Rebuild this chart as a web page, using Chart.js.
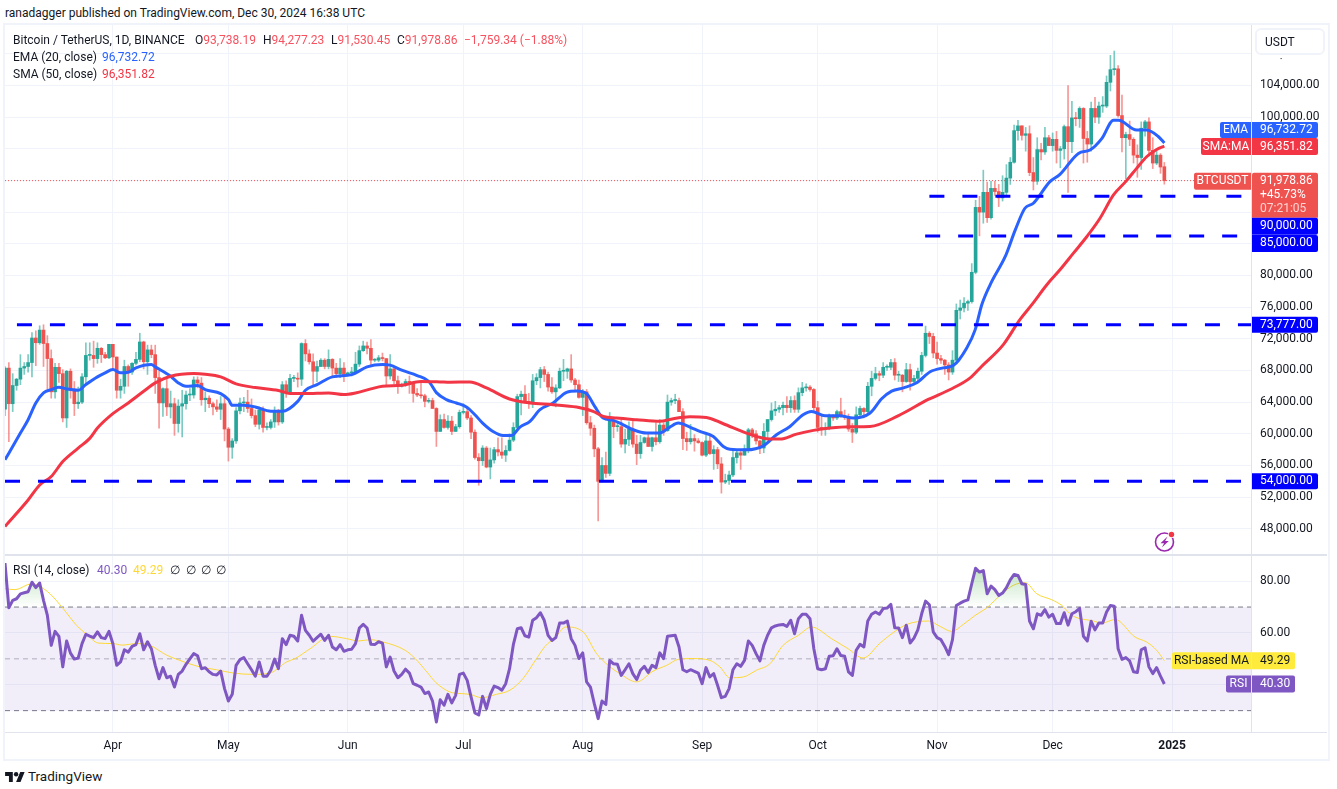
<!DOCTYPE html>
<html><head><meta charset="utf-8">
<script src="https://cdn.jsdelivr.net/npm/chart.js@4"></script>
<style>
html,body{margin:0;padding:0;background:#fff;width:1337px;height:789px;overflow:hidden}
body{font-family:Roboto,sans-serif;font-size:12px;color:#131722;position:relative}
canvas{position:absolute;left:5px;display:block}
#frame{position:absolute;left:3px;top:23px;width:1323px;height:734px;border:2px solid #f0f3fa}
.t{position:absolute;white-space:pre;line-height:16px;z-index:3}
#usdt{position:absolute;left:1255px;top:28px;height:23px;border:2px solid #f0f3fa;border-radius:6px;background:#fff;z-index:3;line-height:25px;padding-left:8px;box-sizing:content-box;width:58px;box-shadow:0 3px 0 #fff}
.u{color:#f7525f}
</style></head><body>
<div id="frame"></div>
<div class="t" style="left:5px;top:5px">ranadagger published on TradingView.com, Dec 30, 2024 16:38 UTC</div>
<div class="t" style="left:13px;top:32px">Bitcoin / TetherUS, 1D, BINANCE</div>
<div class="t" style="left:195px;top:32px">O<span class="u">93,738.19</span></div>
<div class="t" style="left:263px;top:32px">H<span class="u">94,277.23</span></div>
<div class="t" style="left:331px;top:32px">L<span class="u">91,530.45</span></div>
<div class="t" style="left:397px;top:32px">C<span class="u">91,978.86</span></div>
<div class="t u" style="left:464px;top:32px">−1,759.34 (−1.88%)</div>
<div class="t" style="left:13px;top:49px">EMA (20, close)</div>
<div class="t" style="left:102px;top:49px;color:#2962ff">96,732.72</div>
<div class="t" style="left:13px;top:66px">SMA (50, close)</div>
<div class="t" style="left:102px;top:66px;color:#f23645">96,351.82</div>
<div class="t" style="left:13px;top:562px">RSI (14, close)</div>
<div class="t" style="left:97px;top:562px;color:#7e57c2">40.30</div>
<div class="t" style="left:133px;top:562px;color:#fdd835">49.29</div>
<div class="t" style="left:170px;top:562px">∅</div>
<div class="t" style="left:186px;top:562px">∅</div>
<div class="t" style="left:201px;top:562px">∅</div>
<div class="t" style="left:216px;top:562px">∅</div>
<div id="usdt">USDT</div>
<svg style="position:absolute;left:5px;top:771px" width="20" height="11" viewBox="0 0 36 20"><path fill="#131722" d="M14 20H7V9H0V2h14v18zM28 20h-8l7.5-18h8L28 20z"/><circle fill="#131722" cx="20" cy="6" r="4"/></svg>
<div class="t" style="left:28px;top:767px;font-size:13.5px;line-height:18px">TradingView</div>
<svg style="position:absolute;left:1153px;top:530px;z-index:3" width="24" height="24" viewBox="0 0 24 24"><circle cx="11.5" cy="12" r="9" fill="none" stroke="#9c27b0" stroke-width="1.6"/><path fill="#9c27b0" d="M14.5 6.5 7.5 13.2h3.6L8.8 17.6l7-6.6h-3.6z"/><circle cx="18.5" cy="4.5" r="3.4" fill="#fff"/><circle cx="18.5" cy="4.5" r="2.7" fill="#f23645"/></svg>
<canvas id="main" width="1323" height="530" style="top:25px"></canvas>
<canvas id="rsi" width="1323" height="203" style="top:555px"></canvas>
<script>
const opens=[
63100,68300,63800,66100,66900,68300,68500,69000,72100,71500,
73100,71400,69500,65300,68400,67600,62000,67900,65500,63800,
64000,67200,69900,69900,69500,70800,70000,69600,71300,69700,
65500,66000,68500,67800,68900,69400,71600,69100,70600,70000,
67100,63900,65700,63400,63800,61300,63500,63800,64900,64900,
66800,66400,64300,64500,63800,63400,63100,63800,60600,58300,
59100,62900,63900,64000,63200,62300,61200,63000,60800,60800,
61500,62900,61500,66200,65200,67000,67000,66900,71400,70100,
69100,67900,68500,69300,68500,69400,68300,67600,68300,67500,
67700,67700,68800,70500,71100,70800,69300,69300,69600,69500,
67300,68200,66700,66000,66200,66600,66500,65100,64900,64800,
64100,64200,63200,60300,61800,60800,61600,60300,60900,62700,
62800,62000,60200,57000,56600,58200,55800,56700,58000,57700,
57300,57900,59200,60800,64700,65000,64100,63900,66700,67100,
68100,67500,65900,65300,65800,67900,67900,68200,66800,66200,
64600,65300,61400,60700,58100,54000,56000,55000,61700,60900,
60900,58700,59300,60600,58700,57500,58900,59500,58400,59500,
59000,61100,60400,64000,64200,64200,62800,59400,59000,59400,
59100,58900,57300,59100,57500,58000,56200,53900,54100,54800,
57000,57600,57300,58100,60500,60000,59100,58200,60300,61800,
62900,63100,63300,63600,63300,64200,63100,65200,65800,65900,
65600,63300,60800,60600,60700,62100,62000,62800,62200,62100,
60600,60200,62400,63200,62800,66000,67000,67600,67400,68400,
68400,69000,67400,67400,66600,68100,66600,67000,67900,69900,
72700,72300,70200,69500,69300,68700,67800,69300,75600,75900,
76500,76700,80400,88600,88000,90500,87300,91000,90600,89800,
90500,92300,94300,98300,98900,97700,97900,93000,91900,95900,
95600,97400,96400,97200,95800,96000,98800,96900,99900,99800,
101100,97300,96600,101100,100000,101400,101400,104400,106000,106100,
100200,97400,97800,97200,95200,94900,98600,99400,95800,94200,
95200,93738.19];
const highs=[
68500,69000,67600,67000,70000,69000,70000,72800,73000,73650,
73777,72400,70600,68900,68900,68100,68000,68200,66600,65900,
67600,71500,71500,71700,71500,70900,70300,71300,71300,69700,
66900,69300,68700,69000,70300,72700,71700,71200,71200,71200,
67900,65800,66900,65400,64500,64300,65500,65400,65700,67200,
67200,67100,65300,64800,64000,64300,64700,64800,60800,59400,
63300,64500,64600,65500,64400,63000,63400,63400,61400,61800,
63400,63100,66600,66700,67500,67400,67700,71500,71900,70600,
70100,69200,69500,69500,70600,69500,68900,69500,69000,67800,
68400,70300,71100,71700,71600,71900,69500,69900,70200,69500,
70000,68400,67300,66400,66900,67300,66500,65700,66500,65000,
64500,64500,63300,62400,62500,62300,62200,61200,63000,63800,
63300,62300,60500,57500,58500,58400,58200,58300,59500,59500,
58500,60000,61400,65000,65400,66100,65100,67500,67600,68400,
68500,67800,67100,66200,68300,69400,68300,70000,67000,66800,
65600,65600,62200,61100,58300,57000,57700,62700,61800,61400,
61800,60600,61500,61800,59800,59800,59600,60200,59600,61400,
61800,61400,64900,64500,65000,64500,63200,60200,61200,59900,
59400,59000,59800,59800,58500,58300,57000,54900,55300,58100,
58000,57900,58600,60700,60700,60400,59200,61300,61800,63900,
64100,63600,64000,64700,64700,64800,65800,66500,66300,66100,
65700,64100,62400,61400,62500,62400,63000,64500,63000,62500,
61300,63400,63500,63300,66500,67900,68400,67900,69000,68700,
69400,69500,67900,67500,68900,68800,67400,68300,70300,73600,
72900,72700,71600,69900,69400,69000,70500,76400,76900,77200,
76900,81500,89500,90000,93300,91800,91900,91900,91500,92600,
94000,94900,99000,99600,98900,98700,98900,94900,97400,96700,
98700,97700,98000,98200,96300,99000,104000,102000,100600,101300,
101200,98200,101900,102500,101900,102600,105200,107800,108350,106500,
102800,98100,99500,97400,96500,99400,99600,99900,97400,95700,
95400,94277.23];
const lows=[
62300,59000,62800,65500,66200,67500,67800,67200,68600,71300,
68500,65600,64500,64500,66500,61500,60800,64500,62300,63200,
63800,66400,69300,68400,68900,69000,69500,69500,68100,64500,
64500,65100,66000,67500,68700,69100,68200,67500,69600,65100,
60700,62200,62300,62000,59800,60200,59600,63100,64200,64500,
65800,63600,62800,63300,62400,62800,61800,59100,56550,56900,
58800,62500,62800,62700,62000,60900,60600,60200,60500,60600,
60800,61100,61300,64600,65000,66600,65900,66100,69200,68800,
66000,66600,68500,68200,68200,67200,67100,67100,66600,67400,
67300,67600,68500,70400,70100,68500,69100,69100,69200,66100,
66900,66300,65100,65900,66000,65100,64000,64700,64500,63400,
63900,63200,58400,60300,60700,60600,59900,60300,60700,62500,
61800,59400,56800,53500,56000,55700,54300,56300,57200,56900,
56500,57800,59000,60600,62400,63900,63200,63300,66200,65800,
66600,65400,65100,63400,65700,66700,67000,66500,65300,64500,
62300,61200,59800,57100,49000,53900,54500,54700,59500,60300,
58300,57600,58500,58300,56100,56900,58800,58400,57800,58600,
58800,59800,60300,63600,63800,62800,58000,57900,58700,57800,
58800,57200,57100,57400,55500,55600,52500,53700,53600,54600,
56300,55500,57300,57600,59500,58700,57500,57600,59200,61600,
62300,62700,62400,62700,62700,62700,62700,64800,65400,65400,
62900,60200,59800,59800,60500,61700,61800,62100,61800,60300,
58900,60000,62300,62000,62400,64800,66800,66700,67100,68000,
68100,66800,66600,65300,66500,65500,66400,66700,67500,69700,
71400,69600,68800,68900,67500,66800,67500,69000,74500,75400,
75600,76500,80200,85000,86600,86700,87100,90100,88700,89400,
90000,91500,94200,97100,97100,95700,92600,90800,91500,94600,
95300,96500,95700,94200,93600,94700,90500,95500,98900,98700,
94200,94300,95700,99300,99200,100600,101200,103300,105300,100000,
95600,92200,96400,94200,92400,93400,97600,95200,93500,94000,
92900,91530.45];
const closes=[
68300,63800,66100,66900,68300,68500,69000,72100,71500,73100,
71400,69500,65300,68400,67600,62000,67900,65500,63800,64000,
67200,69900,69900,69500,70800,70000,69600,71300,69700,65500,
66000,68500,67800,68900,69400,71600,69100,70600,70000,67100,
63900,65700,63400,63800,61300,63500,63800,64900,64900,66800,
66400,64300,64500,63800,63400,63100,63800,60600,58300,59100,
62900,63900,64000,63200,62300,61200,63000,60800,60800,61500,
62900,61500,66200,65200,67000,67000,66900,71400,70100,69100,
67900,68500,69300,68500,69400,68300,67600,68300,67500,67700,
67700,68800,70500,71100,70800,69300,69300,69600,69500,67300,
68200,66700,66000,66200,66600,66500,65100,64900,64800,64100,
64200,63200,60300,61800,60800,61600,60300,60900,62700,62800,
62000,60200,57000,56600,58200,55800,56700,58000,57700,57300,
57900,59200,60800,64700,65000,64100,63900,66700,67100,68100,
67500,65900,65300,65800,67900,67900,68200,66800,66200,64600,
65300,61400,60700,58100,54000,56000,55000,61700,60900,60900,
58700,59300,60600,58700,57500,58900,59500,58400,59500,59000,
61100,60400,64000,64200,64200,62800,59400,59000,59400,59100,
58900,57300,59100,57500,58000,56200,53900,54100,54800,57000,
57600,57300,58100,60500,60000,59100,58200,60300,61800,62900,
63100,63300,63600,63300,64200,63100,65200,65800,65900,65600,
63300,60800,60600,60700,62100,62000,62800,62200,62100,60600,
60200,62400,63200,62800,66000,67000,67600,67400,68400,68400,
69000,67400,67400,66600,68100,66600,67000,67900,69900,72700,
72300,70200,69500,69300,68700,67800,69300,75600,75900,76500,
76700,80400,88600,88000,90500,87300,91000,90600,89800,90500,
92300,94300,98300,98900,97700,97900,93000,91900,95900,95600,
97400,96400,97200,95800,96000,98800,96900,99900,99800,101100,
97300,96600,101100,100000,101400,101400,104400,106000,106100,100200,
97400,97800,97200,95200,94900,98600,99400,95800,94200,95200,
93700,91978.86];

const emaDays=[0,2,4,6,8,10,12,14,16,19,21,24,26,28,30,32,34,38,39,43,45,47,50,52,56,58,59,62,65,69,72,76,78,81,85,90,94,98,100,103,107,110,112,114.6,117.2,119.8,122,124,126.7,129.3,131.5,133.7,136.3,138.9,142.3,145.8,148.4,151,153.1,155.3,157.9,160.5,163.1,166.6,170,172.6,174.8,177.8,180.4,183.9,186.5,188.2,192.5,196.9,200.3,203.8,207.2,209.4,212.9,216.8,220.2,224.6,227.6,230.2,233.3,236.7,240.2,243.6,246.2,249.7,251.9,253.6,256.2,259.7,262.3,264.8,267,271.3,273.9,278.7,281.7,284.8,287.8,289.1,293.8,296.4,299.5,301];
const emaValues=[56710,58400,60090,61780,63890,65160,65580,65880,65670,65500,66220,67190,67700,68120,67700,67780,68330,68750,68450,67270,66430,66000,66090,65580,65080,64320,63600,63600,63390,62840,62840,64100,65500,66220,67190,67480,68450,68750,68670,68030,67360,66640,65200,64310,63890,63380,62410,61350,60300,59790,59790,60850,61570,63050,63890,65240,65410,65070,63470,61990,61700,61140,60510,60090,60090,60850,61350,60850,60300,59660,58400,58060,57980,58480,59880,60930,62410,62830,62290,62290,61990,62620,64420,65390,65810,66440,67830,68330,68620,70850,73160,76310,79250,82400,85760,88490,89120,91850,92770,95420,95840,97310,99620,99620,98360,98360,97520,96732.72];
const smaDays=[0,6,9,12,15,19,22,24,28,32,36,39,43,49,52,56,60,65,71,74,78,84,88,91,95,98,103,108,113,115.5,120.7,125,131,136.3,142.3,148.4,152.7,155.3,158.8,164,170,173.5,177.8,182.1,186.5,192.5,196.9,201.2,205.5,209.9,214.2,219.4,224.6,232,239.7,245.4,250.6,253.6,259.2,263.5,266.6,270.5,273.9,277.4,280.9,284.3,287.8,291.2,293.8,296.4,299,301];
const smaValues=[48300,51640,53540,54600,56500,58190,59420,60720,62540,63890,65370,66430,67270,67610,67520,67190,66300,65840,65460,65080,65080,65160,64950,65160,65670,66000,66130,66600,66550,66510,66550,65790,64400,63890,63680,63380,62830,62200,61990,61780,61570,61910,62160,62070,61270,60090,59450,59330,59960,60430,60720,60890,60930,62300,64340,65600,67070,68540,71270,74420,76310,78830,80720,82820,84920,87230,90170,91980,93530,95000,95920,96351.82];

const rsiValues=[
87,69.7,72.6,73.2,75.1,75.5,75.9,79.6,77.5,79.3,
72.6,66.8,55.2,60.6,58.7,46.9,56.9,52.2,49.9,50.3,
55.9,59.5,58.8,58.2,60.4,58.2,57.8,60.6,55.9,47.5,
48.8,53.5,52.6,54.8,55.5,59.7,53.5,56.6,53.9,47.5,
42.3,46.6,42.7,43.3,39.1,44,45.3,47.9,50,52,
51.2,46.2,46.6,45,44,43.8,45.3,38.5,33.7,36.3,
47.5,49.7,50.5,48.1,45.8,43.3,48.8,43.3,43.3,45.6,
49.9,46.2,57.8,55.5,59.1,58.7,56.9,66.8,61,59.1,
56.8,58.2,59.5,57.1,59.1,54.6,53.5,55.5,52.9,53.5,
53.7,55.9,61.9,63.3,61.9,55.6,55.5,56.6,56.1,46.9,
50.7,45.3,42.7,44,46,44.5,40.4,39.8,39.1,36.6,
37.2,33.7,25.6,34.2,32.1,36.3,33,35.9,44,44.5,
41.7,35.3,29.1,28.3,35.5,30.8,36.3,39.5,38.9,37.9,
40.4,46.2,55.6,61.6,62,58.9,58.4,64.9,65.9,67.8,
64.9,59.1,57.1,58.2,63.8,63.8,64.6,57.8,55.2,50.1,
52.3,41.1,39.1,32.7,26.9,33.7,32.4,49.4,48.1,47.9,
43.6,45.8,48.1,44.3,42,45.6,47.1,44.7,47.5,46.6,
52.3,50.1,58.7,58.9,59.1,54.6,45.8,45,45.8,45.2,
44.5,40.4,46.6,43,44.3,39.8,35,35.5,38.5,45.8,
48.1,47.1,49.4,56.9,55.2,52,49.2,55.2,59.1,62,
62.7,63.1,63.3,62.5,64.9,59.7,65.5,67.2,67.2,65.5,
53.9,46.2,45.8,46.2,51,51.2,53.9,51.3,51,45,
43.6,53.3,55.6,54.6,64.6,67.2,68.1,67.2,69.4,69.6,
71,62,61.9,58.2,63,56.1,58,61.2,67.4,72.3,
70.9,60.4,58.2,57.4,54.8,51.6,57.4,70.6,71.5,72.3,
72.8,79,85,83.5,84.1,75.1,78.1,76.7,74.5,75.4,
77.5,80.5,82.6,82.2,79,78.7,64.6,61.6,67.4,66.8,
69,66.1,67.2,63.6,63.6,67.8,63,67.4,68.2,69.5,
58.7,56.9,64.5,61.2,63.8,63.8,68.1,70.6,70.3,53.9,
49.8,50.5,49.2,45,44.7,53.5,54.3,46.9,44.3,46.6,
43.3,40.3];
const rsiMaDays=[0,2.6,6.9,9,11.7,15.1,18.6,21.2,24.2,28.1,30.3,34.2,37.6,42,45.4,50.6,54.9,59.3,64.5,68.8,73.1,75.3,79.2,84.4,88.7,91.8,94.8,98.2,103.9,106.5,109.5,111.9,115.5,118.1,120.7,123.7,127.6,131.1,134.5,138,140.2,142.8,145.6,150.1,153.6,156.6,159.6,164,168.3,171.8,174.8,178.7,183,185.6,188.2,191.7,195.1,198.6,202,206,209.4,214.6,218.9,222.8,227.2,230.2,234.1,239.8,242.8,245.8,248.8,251.9,254.9,258.8,261.8,264.9,267.9,271.8,274.4,277,282.6,284.8,288.2,293.4,296.4,299,301];
const rsiMaValues=[77.1,76.7,79,78,75.1,69.4,62.9,59.5,56.1,55.9,55.3,55.9,55.2,51.4,49.4,46.9,45.8,44.5,44,44.5,48.8,50.1,53.9,58.7,57.8,56.9,57.4,56.5,53.3,50.1,45,40.8,37.2,36.6,36.3,35,36.3,37.9,42.4,50.1,54.8,58.2,62.3,60.4,52,47.5,44.3,41.1,45.3,47.5,49.8,50.1,49.4,46.9,42.7,43,45.6,48.1,55.2,59.1,62.3,57.8,53.9,50.3,56.1,59.7,63.3,64.6,62.5,60.6,63.3,66.8,69.7,75.1,78.4,79.4,75.1,72.8,70.6,66.8,64.6,63.8,65.2,58.4,56.5,53.3,49.29];

const monthDays=[28,58,89,119,150,181,211,242,272,303];
const monthLabels=['Apr','May','Jun','Jul','Aug','Sep','Oct','Nov','Dec','2025'];
const priceTicks=[48000,52000,56000,60000,64000,68000,72000,76000,80000,84000,88000,92000,96000,100000,104000,108000];
const rsiTicks=[40,60,80];
const closePrice=91978.86;
const levelPrices=[73777,54000,90000,85000];
const levelStartDays=[3.1,0,240,238.9];
const levelEndDays=[323.5,323.5,321,320];
const rsiLevels=[70,50,30];

const X_MAX=323.5, FONT='Roboto,sans-serif';
const pts=(xs,ys)=>ys.map((y,i)=>({x:xs?xs[i]:i,y}));
const up='#26a69a',down='#ef5350',upW='rgba(38,166,154,.6)',downW='rgba(239,83,80,.6)';
const isUp=i=>closes[i]>=opens[i];
const lineDs=(data,color,width,extra)=>Object.assign({type:'line',data,borderColor:color,borderWidth:width,pointRadius:0,tension:0,fill:false,borderJoinStyle:'round'},extra||{});
const fmt=(v,d)=>v.toLocaleString('en-US',{minimumFractionDigits:d,maximumFractionDigits:d});

function xAxis(showLabels){return{
  type:'linear',min:0,max:X_MAX,offset:false,
  afterBuildTicks:s=>{s.ticks=monthDays.map(v=>({value:v}));},
  grid:{color:'#f0f3fa',drawTicks:false,offset:false},
  border:{display:false},
  ticks:{display:showLabels,autoSkip:false,maxRotation:0,padding:7,color:'#131722',
    callback:v=>monthLabels[monthDays.indexOf(v)],
    font:c=>({family:FONT,size:12,weight:c.tick&&c.tick.value===303?'bold':'normal'})},
  afterFit:s=>{s.paddingLeft=0;s.paddingRight=0;if(showLabels)s.height=26;else s.height=0;}
};}
function yAxis(min,max,list,d){return{
  type:'linear',position:'right',min,max,
  afterBuildTicks:s=>{s.ticks=list.map(v=>({value:v}));},
  grid:{color:'#f0f3fa',drawTicks:false},
  border:{color:'#e0e3eb'},
  ticks:{autoSkip:false,padding:9,color:'#131722',
    font:{family:FONT,size:12},callback:v=>fmt(v,d)},
  afterFit:s=>{s.width=77;s.paddingTop=0;s.paddingBottom=0;}
};}
function box(ctx,x,y,w,h,color,r){ctx.fillStyle=color;ctx.beginPath();ctx.roundRect(x,y,w,h,r);ctx.fill();}
function text(ctx,s,x,y,color,align){ctx.fillStyle=color;ctx.textAlign=align||'left';ctx.textBaseline='middle';ctx.font='12px '+FONT;ctx.fillText(s,x,y);}

const mainTags={id:'mainTags',afterDraw(c){
  const ctx=c.ctx,s=c.scales.y,R=c.chartArea.right;
  const tag=(v,dy,h,lbl,color,leftW,leftTxt)=>{
    const y=s.getPixelForValue(v)+dy;
    box(ctx,R+1,y-h/2,66,h,color,[0,2,2,0]);
    text(ctx,lbl,R+9,y,'#fff');
    if(leftW){box(ctx,R-leftW,y-h/2,leftW,h,color,[2,0,0,2]);text(ctx,leftTxt,R-leftW/2,y,'#fff','center');}
  };
  tag(emaValues[emaValues.length-1],-13,16,'96,732.72','#2962ff',31,'EMA');
  tag(smaValues[smaValues.length-1],0.5,17,'96,351.82','#f23645',50,'SMA:MA');
  const yc=s.getPixelForValue(closePrice);
  box(ctx,R+1,yc-8,66,45,down,[2,2,0,0]);
  box(ctx,R-57,yc-8,57,17,down,[2,0,0,2]);
  text(ctx,'BTCUSDT',R-28.5,yc+.5,'#fff','center');
  text(ctx,'91,978.86',R+9,yc+.5,'#fff');
  text(ctx,'+45.73%',R+9,yc+14.5,'#fff');
  text(ctx,'07:21:05',R+9,yc+28.5,'rgba(255,255,255,.75)');
  tag(levelPrices[2],30,17,fmt(levelPrices[2],2),'#0000ff');
  tag(levelPrices[3],7.5,17,fmt(levelPrices[3],2),'#0000ff');
  tag(levelPrices[0],0,16,fmt(levelPrices[0],2),'#0000ff');
  tag(levelPrices[1],0,16,fmt(levelPrices[1],2),'#0000ff');
}};
const rsiTags={id:'rsiTags',afterDraw(c){
  const ctx=c.ctx,s=c.scales.y,R=c.chartArea.right;
  const tag=(v,lbl,color,fg,leftW,leftTxt)=>{
    const y=s.getPixelForValue(v);
    box(ctx,R+1,y-8.5,43,17,color,[0,2,2,0]);
    text(ctx,lbl,R+9,y,fg);
    box(ctx,R-leftW,y-8.5,leftW,17,color,[2,0,0,2]);
    text(ctx,leftTxt,R-leftW/2,y,fg,'center');
  };
  tag(rsiMaValues[rsiMaValues.length-1],'49.29','#ffeb3b','#131722',79,'RSI-based MA');
  tag(rsiValues[rsiValues.length-1],'40.30','#7e57c2','#fff',25,'RSI');
}};
const gradFill={id:'gradFill',afterLayout(c){
  const s=c.scales.y,g=c.ctx.createLinearGradient(0,s.getPixelForValue(86),0,s.getPixelForValue(70));
  g.addColorStop(0,'rgba(76,175,80,.38)');g.addColorStop(1,'rgba(76,175,80,0)');
  c.data.datasets[0].fill.above=g;
}};

const base={responsive:false,animation:false,devicePixelRatio:1,layout:{padding:0},
  plugins:{legend:{display:false},tooltip:{enabled:false}},events:[]};
const smooth={cubicInterpolationMode:'monotone'};

new Chart(document.getElementById('main'),{
  type:'bar',
  data:{datasets:[
    lineDs(pts(levelStartDays.slice(0,1).concat(levelEndDays[0]),[levelPrices[0],levelPrices[0]]),'#0000ff',3,{borderDash:[15,18],order:0}),
    lineDs(pts(levelStartDays.slice(1,2).concat(levelEndDays[1]),[levelPrices[1],levelPrices[1]]),'#0000ff',3,{borderDash:[15,18],order:0}),
    lineDs(pts(levelStartDays.slice(2,3).concat(levelEndDays[2]),[levelPrices[2],levelPrices[2]]),'#0000ff',3,{borderDash:[15,18],order:0}),
    lineDs(pts(levelStartDays.slice(3,4).concat(levelEndDays[3]),[levelPrices[3],levelPrices[3]]),'#0000ff',3,{borderDash:[15,18],order:0}),
    lineDs(pts(smaDays,smaValues),'#f23645',3,Object.assign({order:1},smooth)),
    lineDs(pts(emaDays,emaValues),'#2962ff',3,Object.assign({order:2},smooth)),
    {type:'bar',order:3,grouped:false,barThickness:3,minBarLength:1,
      data:opens.map((o,i)=>({x:i,y:[o,closes[i]]})),
      backgroundColor:opens.map((o,i)=>isUp(i)?up:down)},
    {type:'bar',order:4,grouped:false,barThickness:1,
      data:highs.map((h,i)=>({x:i,y:[lows[i],h]})),
      backgroundColor:opens.map((o,i)=>isUp(i)?upW:downW)},
    lineDs(pts([0,X_MAX],[closePrice,closePrice]),'#ef5350',1,{borderDash:[1,2],order:5})
  ]},
  options:Object.assign({},base,{scales:{x:xAxis(false),y:yAxis(44690,111638,priceTicks,2)}}),
  plugins:[mainTags]
});

const bandLine=rsiLevels.map(v=>pts([0,X_MAX],[v,v]));
new Chart(document.getElementById('rsi'),{
  type:'line',
  data:{datasets:[
    lineDs(pts(null,rsiValues),'#7e57c2',3,{order:0,fill:{target:{value:70},above:'rgba(76,175,80,.2)',below:'rgba(0,0,0,0)'}}),
    lineDs(pts(rsiMaDays,rsiMaValues),'#fdd835',1,Object.assign({order:1},smooth)),
    lineDs(bandLine[0],'#787b86',1,{order:2,borderDash:[5,4],fill:{target:{value:30}},backgroundColor:'rgba(126,87,194,.1)'}),
    lineDs(bandLine[1],'rgba(120,123,134,.55)',1,{order:3,borderDash:[5,4]}),
    lineDs(bandLine[2],'#787b86',1,{order:4,borderDash:[5,4]})
  ]},
  options:Object.assign({},base,{scales:{x:xAxis(true),y:yAxis(21.75,90.1,rsiTicks,2)}}),
  plugins:[gradFill,rsiTags]
});
</script>
<div style="position:absolute;left:5px;top:554px;width:1322px;height:2px;background:#e0e3eb;z-index:2"></div>
<div style="position:absolute;left:5px;top:732px;width:1322px;height:1px;background:#e0e3eb;z-index:2"></div>
</body></html>
